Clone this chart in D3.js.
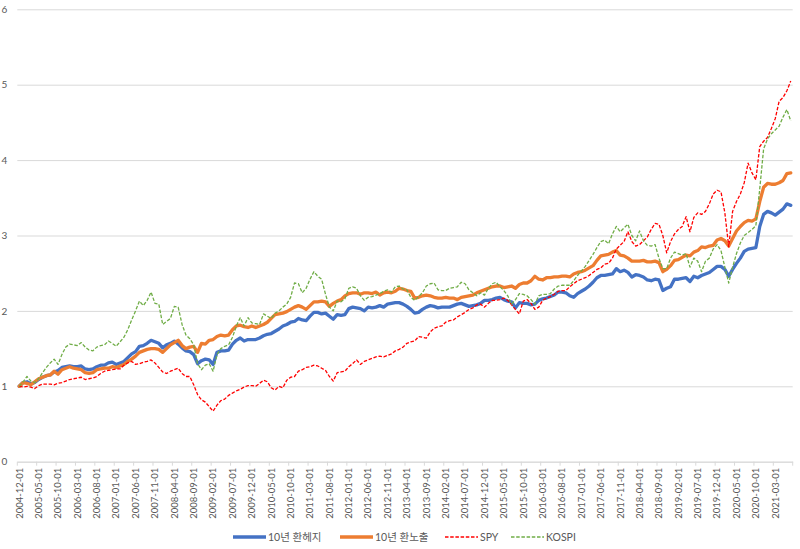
<!DOCTYPE html>
<html>
<head>
<meta charset="utf-8">
<script src="https://cdn.jsdelivr.net/npm/d3@7"></script>
<style>
  body { margin: 0; background: #fff; }
  svg { display: block; font-family: Lato, "Noto Sans CJK KR", sans-serif; }
</style>
</head>
<body>
<div id="app"></div>
<script>
// monthly categories, 2004-12 .. 2021-07
var firstMonth = new Date(2004, 11, 1),
    afterLastMonth = new Date(2021, 7, 1);
var categories = d3.timeMonth.range(firstMonth, afterLastMonth).map(d3.timeFormat("%Y-%m-%d"));
var labelEvery = 5;
var yTicks = [0, 1, 2, 3, 4, 5, 6];

var seriesNames = ["10년 환헤지", "10년 환노출", "SPY", "KOSPI"];

var hedged = [
  1.00,1.05,1.06,1.03,1.05,1.09,1.12,1.14,1.15,1.19,
  1.21,1.25,1.26,1.27,1.26,1.26,1.27,1.23,1.22,1.23,
  1.26,1.28,1.28,1.31,1.32,1.29,1.31,1.33,1.38,1.43,
  1.46,1.53,1.54,1.57,1.61,1.59,1.57,1.51,1.55,1.57,
  1.60,1.56,1.51,1.47,1.46,1.42,1.30,1.34,1.36,1.35,
  1.29,1.45,1.47,1.47,1.48,1.56,1.61,1.64,1.60,1.62,
  1.62,1.62,1.64,1.67,1.69,1.70,1.73,1.76,1.80,1.82,
  1.85,1.86,1.90,1.88,1.87,1.93,1.98,1.98,1.96,1.97,
  1.93,1.89,1.95,1.94,1.95,2.03,2.05,2.04,2.03,2.00,
  2.05,2.04,2.05,2.07,2.05,2.09,2.10,2.11,2.11,2.09,
  2.06,2.02,1.97,1.98,2.02,2.05,2.07,2.06,2.04,2.05,
  2.05,2.05,2.07,2.09,2.10,2.08,2.06,2.07,2.08,2.10,
  2.14,2.14,2.15,2.17,2.18,2.15,2.13,2.12,2.04,2.11,
  2.10,2.10,2.08,2.09,2.14,2.16,2.17,2.19,2.21,2.25,
  2.25,2.24,2.20,2.18,2.23,2.26,2.29,2.33,2.38,2.44,
  2.47,2.47,2.48,2.49,2.56,2.52,2.54,2.51,2.45,2.48,
  2.47,2.45,2.41,2.40,2.42,2.41,2.27,2.30,2.32,2.42,
  2.42,2.43,2.44,2.39,2.46,2.44,2.47,2.49,2.51,2.55,
  2.59,2.59,2.55,2.46,2.55,2.63,2.70,2.79,2.82,2.83,
  2.84,3.12,3.28,3.32,3.30,3.27,3.31,3.35,3.42,3.40
];

var unhedged = [
  1.00,1.05,1.04,1.02,1.06,1.10,1.12,1.14,1.15,1.20,
  1.16,1.22,1.24,1.26,1.24,1.23,1.22,1.18,1.17,1.18,
  1.22,1.23,1.24,1.24,1.26,1.25,1.27,1.29,1.33,1.36,
  1.40,1.45,1.47,1.49,1.50,1.50,1.49,1.45,1.50,1.55,
  1.58,1.61,1.54,1.50,1.52,1.53,1.45,1.57,1.56,1.61,
  1.62,1.66,1.68,1.67,1.68,1.75,1.80,1.81,1.79,1.78,
  1.80,1.78,1.80,1.82,1.85,1.90,1.95,1.96,1.97,1.99,
  2.02,2.05,2.07,2.05,2.02,2.07,2.12,2.12,2.13,2.12,
  2.06,2.10,2.13,2.15,2.20,2.23,2.24,2.24,2.22,2.24,
  2.24,2.23,2.25,2.21,2.24,2.25,2.24,2.26,2.30,2.29,
  2.27,2.26,2.17,2.18,2.20,2.21,2.20,2.18,2.17,2.17,
  2.18,2.17,2.17,2.15,2.18,2.19,2.20,2.21,2.24,2.26,
  2.28,2.30,2.32,2.33,2.33,2.31,2.32,2.33,2.30,2.35,
  2.37,2.37,2.40,2.46,2.42,2.41,2.44,2.44,2.45,2.45,
  2.46,2.46,2.45,2.49,2.51,2.52,2.54,2.57,2.60,2.67,
  2.73,2.74,2.75,2.78,2.80,2.74,2.73,2.70,2.66,2.66,
  2.66,2.67,2.65,2.65,2.66,2.64,2.52,2.55,2.60,2.67,
  2.68,2.71,2.74,2.73,2.78,2.80,2.85,2.84,2.86,2.87,
  2.94,2.96,2.93,2.86,2.96,3.06,3.12,3.17,3.20,3.19,
  3.22,3.45,3.64,3.69,3.68,3.68,3.70,3.73,3.82,3.83
];

var spy = [
  1.00,0.99,1.00,0.99,0.97,1.01,1.03,1.03,1.03,1.02,
  1.04,1.05,1.07,1.09,1.10,1.11,1.12,1.09,1.10,1.11,
  1.13,1.17,1.20,1.21,1.22,1.23,1.23,1.28,1.31,1.33,
  1.29,1.30,1.32,1.33,1.35,1.31,1.25,1.19,1.17,1.20,
  1.22,1.24,1.17,1.13,1.13,1.02,0.89,0.82,0.79,0.73,
  0.67,0.75,0.81,0.83,0.88,0.91,0.94,0.96,0.99,1.01,
  1.01,1.00,1.04,1.08,1.06,0.98,0.95,1.00,0.98,1.08,
  1.12,1.13,1.20,1.22,1.25,1.26,1.28,1.27,1.24,1.21,
  1.13,1.07,1.18,1.19,1.20,1.26,1.30,1.35,1.29,1.33,
  1.35,1.37,1.39,1.40,1.39,1.41,1.43,1.47,1.49,1.52,
  1.57,1.59,1.60,1.66,1.65,1.64,1.72,1.77,1.79,1.80,
  1.85,1.87,1.88,1.92,1.95,1.98,2.02,2.04,2.08,2.09,
  2.05,2.10,2.14,2.14,2.15,2.17,2.14,2.08,2.02,1.96,
  2.13,2.15,2.10,2.02,2.05,2.14,2.17,2.19,2.22,2.26,
  2.27,2.27,2.32,2.36,2.40,2.42,2.44,2.47,2.51,2.55,
  2.57,2.62,2.63,2.70,2.82,2.87,2.92,3.05,2.92,2.86,
  2.88,2.93,2.98,3.08,3.16,3.15,3.00,2.77,2.92,3.02,
  3.08,3.12,3.25,3.05,3.24,3.30,3.28,3.32,3.42,3.55,
  3.60,3.58,3.30,2.85,3.32,3.45,3.55,3.70,3.96,3.83,
  3.74,4.18,4.25,4.30,4.42,4.55,4.78,4.83,4.92,5.05
];

var kospi = [
  1.00,1.06,1.13,1.07,1.05,1.10,1.18,1.25,1.31,1.36,
  1.29,1.42,1.52,1.56,1.55,1.54,1.58,1.52,1.48,1.47,
  1.52,1.54,1.55,1.60,1.57,1.53,1.59,1.65,1.75,1.88,
  2.00,2.13,2.07,2.14,2.25,2.10,2.09,1.82,1.86,1.90,
  2.06,2.05,1.82,1.68,1.63,1.55,1.30,1.22,1.28,1.30,
  1.20,1.42,1.50,1.53,1.55,1.65,1.80,1.91,1.80,1.91,
  1.84,1.83,1.82,1.96,1.93,1.90,1.97,2.00,2.05,2.09,
  2.18,2.37,2.36,2.24,2.30,2.42,2.52,2.46,2.42,2.22,
  2.05,2.00,2.13,2.12,2.16,2.30,2.32,2.30,2.20,2.14,
  2.18,2.19,2.21,2.23,2.26,2.28,2.25,2.32,2.33,2.29,
  2.28,2.18,2.14,2.19,2.24,2.33,2.36,2.37,2.28,2.27,
  2.27,2.30,2.31,2.32,2.38,2.36,2.28,2.24,2.20,2.24,
  2.21,2.30,2.36,2.38,2.32,2.27,2.20,2.09,2.15,2.23,
  2.22,2.20,2.15,2.09,2.20,2.22,2.22,2.23,2.29,2.33,
  2.34,2.34,2.34,2.40,2.47,2.53,2.59,2.67,2.75,2.84,
  2.92,2.94,2.89,3.02,3.12,3.05,3.10,3.15,3.00,2.93,
  3.06,2.93,2.87,2.86,2.88,2.70,2.56,2.56,2.70,2.78,
  2.76,2.74,2.76,2.58,2.70,2.66,2.52,2.66,2.70,2.82,
  2.88,2.80,2.58,2.37,2.58,2.76,2.90,3.00,3.04,3.08,
  3.13,3.62,4.15,4.28,4.35,4.40,4.45,4.57,4.67,4.52
];

var width = 800,
    height = 549,
    plotLeft = 17.3,
    plotRight = 792.7,
    plotTop = 9.3,
    plotBottom = 461.7;

var series = [
  {name: seriesNames[0], values: hedged,   color: "#4472C4", width: 3.3, dash: null},
  {name: seriesNames[1], values: unhedged, color: "#ED7D31", width: 3.3, dash: null},
  {name: seriesNames[2], values: spy,      color: "#FF0000", width: 1.3, dash: "3.5,1.7"},
  {name: seriesNames[3], values: kospi,    color: "#70AD47", width: 1.3, dash: "3.5,1.7"}
];

var svg = d3.select("#app").append("svg")
    .attr("width", width)
    .attr("height", height);

var x = d3.scaleBand()
    .domain(categories)
    .range([plotLeft, plotRight]);

var y = d3.scaleLinear()
    .domain([0, 6])
    .range([plotBottom, plotTop]);

// gridlines + y labels
var yAxis = svg.append("g")
    .attr("transform", "translate(" + plotLeft + ",0)")
    .call(d3.axisLeft(y)
        .tickValues(yTicks)
        .tickFormat(d3.format("d"))
        .tickSize(-(plotRight - plotLeft))
        .tickPadding(10));
yAxis.select(".domain").remove();
yAxis.selectAll("line").attr("stroke", "#d9d9d9").attr("stroke-width", 1);
yAxis.selectAll("text")
    .attr("fill", "#595959")
    .style("font-size", "10px")
    .style("font-family", "Lato, sans-serif");

// category axis
var tickCats = categories.filter(function(d, i) { return i % labelEvery === 0; });

var xAxis = svg.append("g")
    .attr("transform", "translate(0," + plotBottom + ")")
    .call(d3.axisBottom(x).tickValues(tickCats).tickSize(0));
xAxis.select(".domain").attr("stroke", "#d9d9d9");
xAxis.selectAll("text")
    .attr("transform", "rotate(-90)")
    .attr("x", -6)
    .attr("y", 0)
    .attr("dy", "0.35em")
    .attr("text-anchor", "end")
    .attr("fill", "#595959")
    .style("font-size", "9.5px")
    .style("font-family", "Lato, sans-serif");

// tick marks sit between categories
xAxis.selectAll("line.boundary")
    .data(tickCats.concat([null]))
    .enter().append("line")
    .attr("class", "boundary")
    .attr("x1", function(d) { return d === null ? plotRight : x(d); })
    .attr("x2", function(d) { return d === null ? plotRight : x(d); })
    .attr("y1", 0)
    .attr("y2", 4)
    .attr("stroke", "#d9d9d9");

var line = d3.line()
    .x(function(d, i) { return x(categories[i]) + x.bandwidth() / 2; })
    .y(function(d) { return y(d); });

svg.selectAll("path.series")
    .data(series)
    .enter().append("path")
    .attr("class", "series")
    .attr("d", function(d) { return line(d.values); })
    .attr("fill", "none")
    .attr("stroke", function(d) { return d.color; })
    .attr("stroke-width", function(d) { return d.width; })
    .attr("stroke-dasharray", function(d) { return d.dash; })
    .attr("stroke-linejoin", "round")
    .attr("stroke-linecap", function(d) { return d.dash ? "butt" : "round"; });

// legend
var legendX = [233, 340, 445, 511],
    legendY = 537;

var legend = svg.append("g")
    .selectAll("g")
    .data(series)
    .enter().append("g")
    .attr("transform", function(d, i) { return "translate(" + legendX[i] + "," + legendY + ")"; });

legend.append("line")
    .attr("x1", 0)
    .attr("x2", 33)
    .attr("stroke", function(d) { return d.color; })
    .attr("stroke-width", function(d) { return d.width; })
    .attr("stroke-dasharray", function(d) { return d.dash; });

legend.append("text")
    .attr("x", 35)
    .attr("dy", "0.35em")
    .attr("fill", "#595959")
    .style("font-size", "10.5px")
    .text(function(d) { return d.name; });
</script>
</body>
</html>
